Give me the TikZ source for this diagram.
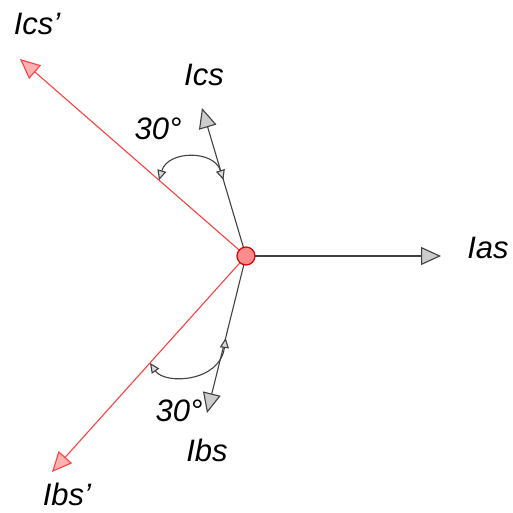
\documentclass[tikz,border=0pt]{standalone}
\usepackage{fontspec}
\setmainfont{Liberation Sans}
\usetikzlibrary{arrows.meta,calc}
\begin{document}
\begin{tikzpicture}[x=1pt,y=-1pt,
 vec/.style={draw=black!75, line width=1.1pt, -{Triangle[open,fill=gray!40,length=20pt,width=18pt]}},
 rvec/.style={draw=red!75, line width=1.1pt, -{Triangle[open,fill=red!30,length=20pt,width=18pt]}},
 ang/.style={draw=black!75, line width=1.1pt, {Triangle[open,fill=gray!30,length=10pt,width=9pt]}-{Triangle[open,fill=gray!30,length=10pt,width=9pt]}},
 lbl/.style={font=\fontsize{31}{32}\selectfont\itshape, inner sep=0pt},
 hub/.style={circle, draw=red!85!black, line width=1.2pt, fill=red!45, minimum size=18pt, inner sep=0pt}]
\useasboundingbox (0,0) rectangle (512,513);
\coordinate (Oc) at (246,256);
\coordinate (A) at (441,256);
\coordinate (C) at (202,108);
\coordinate (Cp) at (20,59);
\coordinate (B) at (207,413);
\coordinate (Bp) at (52,472);
% vectors
\draw[rvec] (Oc) -- (Cp);
\draw[rvec] (Oc) -- (Bp);
\draw[vec] (Oc) -- (A);
\draw[vec] (Oc) -- (C);
\draw[vec] (Oc) -- (B);
% angle arcs
\coordinate (P1) at ($(Oc)!0.514!(C)$);
\coordinate (P2) at ($(Oc)!0.385!(Cp)$);
\coordinate (P3) at ($(Oc)!0.522!(B)$);
\coordinate (P4) at ($(Oc)!0.495!(Bp)$);
\draw[ang] (P2) .. controls (168,150) and (214,150) .. (P1);
\draw[ang] (P4) .. controls (165,385) and (220,382) .. (P3);
% hub
\node[hub] (O) at (Oc) {};
% labels
\node[lbl] (lcp) at (37,24) {Ics’};
\node[lbl] (lc) at (204,75) {Ics};
\node[lbl] (la1) at (158,129) {30°};
\node[lbl] (la) at (488,248) {Ias};
\node[lbl] (la2) at (179,411) {30°};
\node[lbl] (lb) at (207,450) {Ibs};
\node[lbl] (lbp) at (67,494) {Ibs’};
\end{tikzpicture}
\end{document}
